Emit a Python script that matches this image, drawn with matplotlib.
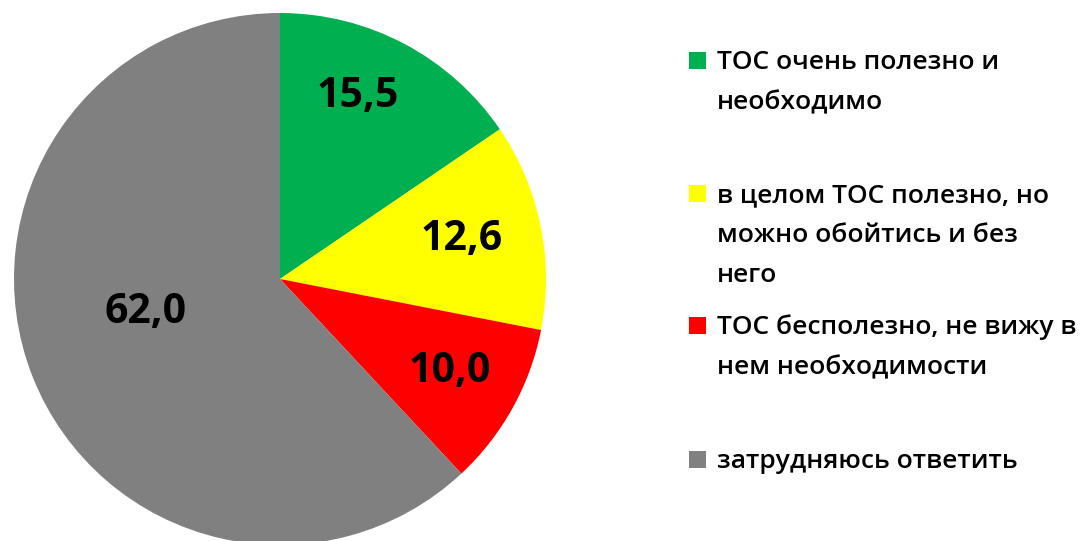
import numpy as np
import matplotlib.pyplot as plt
from matplotlib.patches import Rectangle

labels = ['ТОС очень полезно и\nнеобходимо',
          'в целом ТОС полезно, но\nможно обойтись и без\nнего',
          'ТОС бесполезно, не вижу в\nнем необходимости',
          'затрудняюсь ответить']
values = [15.5, 12.6, 10.0, 62.0]
colors = ['#00B050', '#FFFF00', '#FF0000', '#808080']

# where the value labels sit: fraction of radius, and turn from the wedge middle (deg)
label_r = [0.745, 0.70, 0.725, 0.52]
label_turn = [4.7, 0.6, 0.4, -7.3]

plt.rcParams['font.family'] = ['Open Sans', 'DejaVu Sans']

W, H = 1092, 541
fig = plt.figure(figsize=(W / 100, H / 100), dpi=100)

# pie: centre (280, 279) px, radius 266 px
cx, cy, r = 280, 279, 266
ax = fig.add_axes([(cx - r) / W, (H - cy - r) / H, 2 * r / W, 2 * r / H])
wedges, _ = ax.pie(values, colors=colors, startangle=90, counterclock=False,
                   radius=1.0, wedgeprops=dict(linewidth=0))
ax.set_xlim(-1, 1)
ax.set_ylim(-1, 1)
ax.set_aspect('equal')
ax.axis('off')

total = sum(values)
start = 90.0
for v, rr, turn in zip(values, label_r, label_turn):
    mid = np.deg2rad(start - v / total * 360 / 2 + turn)
    start -= v / total * 360
    ax.text(rr * np.cos(mid), rr * np.sin(mid), f'{v:.1f}'.replace('.', ','),
            ha='center', va='center', fontsize=29.5, fontweight='bold', color='black')

# legend, drawn by hand to keep the spacing of the original
baselines = [69, 202, 334, 468]
line_step = 40
for lab, col, y in zip(labels, colors, baselines):
    fig.patches.append(Rectangle((689 / W, 1 - y / H), 17 / W, 17 / H,
                                 transform=fig.transFigure, facecolor=col,
                                 edgecolor='none'))
    for i, line in enumerate(lab.split('\n')):
        fig.text(717 / W, 1 - (y + i * line_step) / H, line, ha='left',
                 va='baseline', fontsize=19, fontweight='semibold', color='black')

fig.savefig('out.png', dpi=100)
